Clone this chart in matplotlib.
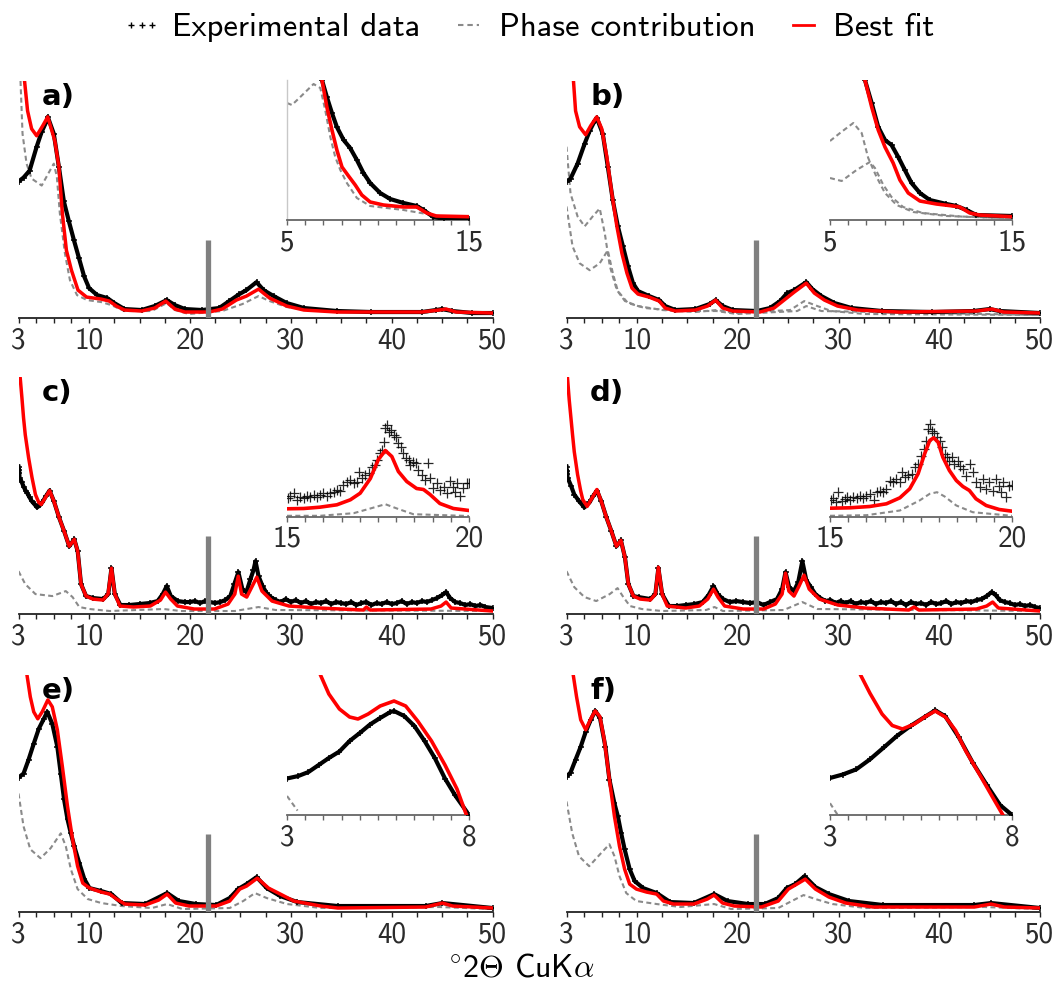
import numpy as np
import matplotlib
matplotlib.use("Agg")
import matplotlib.pyplot as plt
from matplotlib.lines import Line2D

plt.rcParams["font.family"] = ["cmss10", "DejaVu Sans"]
plt.rcParams["mathtext.fontset"] = "cm"
plt.rcParams["axes.unicode_minus"] = False

W, H = 1057, 992
RED = "#ff0000"
GREY = "#8a8a8a"
DARK = "#222222"
DASH = (0, (2.4, 1.6))

# vertical marker drawn at the same angle in every pattern
BAR_POS = 21.8
BAR_TOP = 78

# ---- a) ----
A_EXP = [(3.0, 137), (3.5, 141), (4.1, 148), (4.8, 172), (5.3, 187), (5.8, 198), (5.9, 202),
         (6.5, 185), (7.0, 152), (7.5, 117), (8.0, 97), (8.5, 78), (9.0, 60), (9.5, 42),
         (10.0, 30), (10.8, 23), (11.8, 20), (12.5, 15), (13.5, 9), (15.2, 8), (16.5, 12),
         (17.5, 17), (17.7, 18), (18.5, 13), (19.5, 9), (21.2, 8), (22.9, 10), (23.9, 17),
         (24.9, 24), (25.6, 28), (26.6, 36), (27.3, 28), (28.3, 22), (29.6, 15), (31.3, 10),
         (34.6, 7), (38.0, 6), (43.0, 6), (44.4, 8), (45.0, 9), (46.0, 7), (48.0, 5), (50.0, 5)]
A_FIT = [(3.6, 238), (3.9, 208), (4.3, 190), (4.8, 183), (5.4, 193), (5.9, 202), (6.6, 178),
         (7.0, 152), (7.35, 105), (7.75, 68), (8.25, 48), (8.9, 28), (9.75, 21), (11.2, 19),
         (12.0, 17), (12.7, 12), (13.5, 8), (15.2, 7), (16.5, 10), (17.6, 17), (18.5, 9),
         (19.5, 6), (21.9, 6), (23.2, 9), (24.6, 18), (25.6, 22), (26.8, 29), (27.9, 20),
         (29.6, 12), (31.3, 8), (34.6, 6), (43.0, 6), (44.7, 8), (45.4, 9), (46.4, 6), (50.0, 5)]
A_PHASE = [(3.2, 238), (3.4, 185), (3.8, 155), (4.3, 140), (5.3, 133), (5.95, 145), (6.5, 155),
           (6.8, 142), (7.1, 105), (7.6, 65), (8.1, 38), (8.8, 23), (9.8, 18), (11.2, 16),
           (12.2, 13), (13.5, 7), (16.2, 7), (17.7, 15), (18.5, 8), (19.9, 4), (23.2, 7),
           (25.2, 14), (26.8, 22), (27.9, 17), (29.6, 11), (32.9, 7), (43.0, 5), (45.0, 8), (50.0, 4)]
A_IN_EXP = [(6.92, 140), (7.19, 123), (7.47, 107), (7.74, 93), (8.11, 80), (8.47, 72), (8.84, 60),
            (9.2, 47), (9.57, 37), (10.12, 27), (10.67, 21), (11.4, 17), (12.13, 14), (12.5, 10),
            (13.04, 3), (13.6, 1.3), (15.0, 1.3)]
A_IN_FIT = [(6.92, 140), (7.19, 113), (7.47, 90), (7.74, 70), (8.02, 53), (8.38, 44), (8.75, 35),
            (9.11, 25), (9.57, 18), (10.3, 15), (11.4, 13), (12.13, 13), (12.68, 7), (13.2, 4),
            (15.0, 3.3)]
A_IN_PHASE = [(5.0, 117), (5.27, 115), (5.73, 123), (6.46, 136), (6.83, 132), (7.1, 110),
              (7.38, 83), (7.65, 63), (7.93, 50), (8.29, 37), (8.84, 22), (9.57, 14), (11.4, 10),
              (12.68, 6), (13.6, 3.3), (15.0, 2.7)]

# ---- b) ----
B_EXP = [(3.0, 137), (3.4, 140), (4.1, 155), (4.8, 175), (5.3, 188), (5.8, 198), (6.0, 201),
         (6.6, 185), (7.1, 152), (7.6, 118), (8.1, 92), (8.6, 72), (9.1, 52), (9.6, 35),
         (10.1, 27), (11.2, 22), (12.2, 18), (12.8, 12), (13.8, 8), (15.8, 9), (17.2, 14),
         (17.8, 18), (18.5, 12), (19.5, 8), (21.9, 7), (23.2, 10), (24.2, 17), (24.9, 25),
         (25.6, 28), (26.8, 36), (27.4, 29), (28.3, 22), (29.6, 15), (31.3, 10), (34.3, 7),
         (39.3, 6), (43.4, 7), (45.0, 9), (46.0, 7), (50.0, 5)]
B_FIT = [(3.7, 237), (3.9, 208), (4.3, 192), (4.9, 184), (5.4, 193), (6.0, 202), (6.5, 190),
         (7.0, 162), (7.5, 125), (8.0, 92), (8.5, 65), (9.0, 45), (9.5, 30), (10.1, 24),
         (11.2, 21), (12.2, 17), (12.8, 10), (13.8, 7), (15.8, 8), (17.0, 12), (17.8, 18),
         (18.5, 10), (19.5, 7), (22.2, 6), (23.6, 10), (24.6, 18), (25.6, 26), (26.8, 35),
         (27.6, 25), (28.6, 18), (29.9, 12), (31.9, 8), (36.0, 6), (43.7, 7), (45.2, 9),
         (46.4, 6), (50.0, 5)]
B_PHASE_1 = [(3.0, 172), (3.4, 125), (4.1, 102), (4.8, 92), (5.6, 102), (6.3, 110), (6.8, 85),
             (7.3, 52), (8.0, 28), (8.8, 17), (10.1, 12), (12.5, 8), (15.8, 6), (17.9, 8),
             (19.9, 5), (25.2, 8), (26.6, 17), (27.9, 12), (29.3, 7), (32.6, 4), (50.0, 3)]
B_PHASE_2 = [(3.0, 112), (3.6, 72), (4.3, 55), (5.3, 48), (6.3, 55), (7.1, 68), (7.6, 45),
             (8.1, 27), (9.1, 15), (10.8, 10), (14.2, 7), (17.9, 7), (19.9, 4), (25.9, 7),
             (26.8, 12), (28.3, 7), (50.0, 3)]
B_IN_EXP = [(6.92, 140), (7.29, 117), (7.65, 93), (8.02, 80), (8.38, 75), (8.75, 63), (9.11, 50),
            (9.48, 37), (9.94, 27), (10.48, 20), (11.4, 16), (11.95, 14), (12.5, 10), (13.04, 5),
            (15.0, 4)]
B_IN_FIT = [(6.92, 140), (7.29, 113), (7.65, 90), (8.02, 73), (8.47, 57), (8.84, 40), (9.3, 27),
            (9.94, 19), (10.85, 16), (11.76, 14), (12.13, 13), (12.68, 7), (13.2, 5), (15.0, 3.3)]
B_IN_PHASE_1 = [(5.0, 79), (5.55, 87), (6.28, 97), (6.74, 87), (7.1, 62), (7.56, 43), (8.02, 27),
                (8.66, 15), (9.57, 8), (11.4, 4), (15.0, 1.7)]
B_IN_PHASE_2 = [(5.0, 42), (5.64, 39), (6.46, 50), (7.19, 58), (7.47, 52), (7.93, 35), (8.38, 23),
                (9.02, 13), (10.1, 7), (12.3, 3.3), (15.0, 1.7)]

# ---- c) ----
C_EXP = [(3.0, 148), (3.03, 142), (3.06, 145), (3.1, 137), (3.3, 133), (3.5, 128), (3.7, 124),
         (3.84, 122), (4.1, 117), (4.34, 113), (4.6, 110), (4.84, 107), (5.1, 109), (5.35, 112),
         (5.7, 118), (6.08, 124), (6.52, 113), (7.02, 97), (7.53, 83), (8.03, 68), (8.53, 75),
         (8.87, 63), (9.2, 30), (9.7, 18), (10.4, 16), (11.4, 15), (11.9, 20), (12.22, 46),
         (12.55, 20), (13.1, 9), (14.0, 9), (15.0, 10), (16.0, 11), (16.8, 13), (17.3, 20),
         (17.7, 28), (18.1, 18), (18.8, 13), (19.5, 12), (20.0, 12), (20.5, 13), (21.0, 11),
         (21.5, 13), (22.0, 12), (22.5, 11), (23.0, 12), (23.5, 14), (24.0, 18), (24.4, 30),
         (24.8, 42), (25.2, 25), (25.6, 22), (26.0, 35), (26.3, 44), (26.5, 53), (26.8, 38),
         (27.2, 28), (27.6, 21), (28.0, 17), (28.5, 14), (29.0, 12), (29.5, 15), (30.0, 12),
         (30.5, 14), (31.0, 11), (31.5, 13), (32.0, 10), (32.5, 12), (33.0, 11), (33.5, 13),
         (34.0, 10), (34.5, 12), (35.0, 11), (35.5, 10), (36.0, 12), (36.5, 9), (37.0, 11),
         (37.5, 12), (38.0, 9), (38.5, 11), (39.0, 10), (39.5, 12), (40.0, 10), (40.5, 11),
         (41.0, 13), (41.5, 10), (42.0, 12), (42.5, 11), (43.0, 13), (43.5, 12), (44.0, 14),
         (44.5, 16), (45.0, 19), (45.4, 22), (45.8, 16), (46.3, 12), (46.8, 11), (47.3, 9),
         (47.8, 10), (48.3, 8), (48.8, 9), (49.3, 7), (50.0, 6)]
C_FIT = [(3.17, 237), (3.34, 217), (3.5, 197), (3.67, 180), (4.0, 157), (4.34, 137), (4.68, 120),
         (5.01, 112), (5.25, 110), (5.68, 117), (6.08, 124), (6.52, 113), (7.02, 97), (7.53, 83),
         (8.03, 68), (8.53, 75), (8.87, 63), (9.2, 30), (9.7, 18), (10.37, 15), (11.38, 14),
         (11.88, 20), (12.22, 46), (12.55, 20), (13.06, 8), (14.4, 7), (16.07, 8), (17.08, 14),
         (17.58, 22), (18.09, 15), (18.76, 8), (20.43, 5), (22.44, 5), (23.78, 10), (24.45, 20),
         (24.79, 38), (25.12, 20), (25.63, 17), (26.13, 27), (26.63, 37), (27.14, 23),
         (28.14, 13), (29.82, 8), (32.84, 6), (37.2, 4), (37.5, 7), (37.86, 4), (43.9, 5),
         (44.9, 8), (45.4, 12), (45.9, 6), (50.0, 3)]
C_PHASE = [(3.0, 43), (3.67, 30), (4.68, 20), (6.35, 18), (7.69, 23), (8.36, 17), (9.03, 7),
           (10.04, 5), (12.05, 3), (17.4, 5), (19.1, 3), (24.45, 3), (26.8, 7), (28.5, 4), (50.0, 3)]
C_IN_EXP = [(15.02, 18.3), (15.09, 20.7), (15.2, 24), (15.27, 16.7), (15.37, 19.3), (15.46, 18.3),
            (15.55, 20.7), (15.64, 19.3), (15.73, 21.7), (15.82, 20), (15.91, 21.7), (16.0, 23.3),
            (16.1, 20.7), (16.19, 24), (16.28, 25), (16.37, 26.7), (16.46, 26), (16.55, 31.7),
            (16.65, 35), (16.74, 36.7), (16.83, 33.3), (16.92, 35), (16.97, 45), (17.06, 38.3),
            (17.15, 41.7), (17.24, 44), (17.33, 50), (17.42, 51.7), (17.47, 56.7), (17.56, 63.3),
            (17.61, 66.7), (17.67, 75), (17.7, 88.3), (17.74, 91.7), (17.79, 85), (17.85, 86.7),
            (17.93, 81.7), (18.0, 80), (18.06, 73.3), (18.13, 70), (18.2, 63.3), (18.27, 58.3),
            (18.34, 56.7), (18.38, 51.7), (18.47, 55), (18.55, 53.3), (18.61, 46.7), (18.7, 41.7),
            (18.79, 36.7), (18.88, 53.3), (18.93, 38.3), (19.02, 28.3), (19.11, 33.3), (19.2, 26.7),
            (19.3, 30), (19.39, 23.3), (19.48, 36), (19.55, 30), (19.62, 25), (19.66, 33.3),
            (19.75, 20.7), (19.83, 28.3), (19.94, 33.3), (20.0, 34)]
C_IN_FIT = [(15.0, 7.7), (15.46, 8), (15.9, 9.3), (16.37, 11.7), (16.74, 16.7), (17.01, 23.3),
            (17.29, 38), (17.51, 57), (17.7, 66), (17.88, 60), (18.06, 45), (18.29, 35),
            (18.56, 28), (18.75, 27), (18.93, 22), (19.2, 13), (19.57, 8), (20.0, 6)]
C_IN_PHASE = [(15.0, 0.7), (15.9, 0.7), (16.83, 3.3), (17.29, 8), (17.7, 12.3), (18.02, 8),
              (18.47, 2.3), (20.0, 0.5)]

# ---- d) ----
D_EXP = [(3.0, 148), (3.03, 141), (3.06, 144), (3.1, 137), (3.44, 129), (3.77, 120), (4.27, 113),
         (4.78, 107), (5.28, 112), (5.62, 118), (6.02, 124), (6.46, 113), (6.96, 97), (7.46, 83),
         (7.96, 68), (8.4, 74), (8.8, 57), (9.14, 30), (9.64, 18), (10.15, 17), (11.32, 15),
         (11.82, 20), (12.12, 46), (12.49, 20), (13.16, 8), (14.0, 8), (14.84, 9), (15.7, 10),
         (16.52, 12), (17.1, 19), (17.59, 28), (18.0, 20), (18.53, 15), (19.2, 12), (19.87, 13),
         (20.5, 12), (21.22, 11), (21.9, 12), (22.56, 9), (23.2, 12), (23.9, 15), (24.4, 25),
         (24.74, 42), (25.1, 27), (25.58, 23), (26.0, 32), (26.41, 53), (26.8, 34), (27.25, 27),
         (27.7, 20), (28.2, 16), (28.7, 13), (29.2, 14), (29.7, 11), (30.2, 13), (30.7, 11),
         (31.2, 13), (31.7, 10), (32.2, 12), (32.7, 11), (33.2, 13), (33.7, 10), (34.2, 12),
         (34.7, 11), (35.2, 13), (35.7, 10), (36.2, 12), (36.7, 9), (37.2, 12), (37.7, 10),
         (38.2, 11), (38.7, 9), (39.2, 12), (39.7, 10), (40.2, 11), (40.7, 13), (41.2, 10),
         (41.7, 12), (42.2, 11), (42.7, 13), (43.2, 12), (43.7, 14), (44.2, 15), (44.7, 18),
         (45.2, 22), (45.6, 19), (46.0, 14), (46.5, 12), (47.0, 11), (47.5, 9), (48.0, 10),
         (48.5, 8), (49.0, 9), (49.5, 7), (50.0, 6)]
D_FIT = [(3.1, 237), (3.27, 215), (3.44, 197), (3.6, 180), (3.77, 163), (4.1, 140), (4.4, 124),
         (4.61, 115), (5.05, 108), (5.62, 118), (6.02, 125), (6.46, 113), (6.96, 97), (7.46, 83),
         (7.96, 68), (8.4, 74), (8.8, 57), (9.14, 30), (9.64, 18), (10.31, 15), (11.32, 14),
         (11.82, 20), (12.12, 47), (12.49, 20), (13.0, 8), (14.84, 6), (16.18, 8), (17.02, 15),
         (17.59, 25), (18.03, 17), (18.7, 8), (20.54, 5), (22.56, 5), (23.73, 10), (24.4, 20),
         (24.74, 41), (25.07, 23), (25.58, 18), (26.08, 28), (26.58, 39), (27.09, 25), (28.09, 15),
         (29.94, 9), (32.62, 6), (36.98, 4), (37.49, 7), (37.99, 4), (43.69, 5), (44.7, 8),
         (45.3, 12), (45.87, 6), (50.0, 3)]
D_PHASE = [(3.0, 43), (3.77, 27), (4.78, 17), (5.95, 13), (7.29, 20), (8.07, 26), (8.64, 17),
           (9.3, 8), (10.48, 5), (12.49, 3), (16.85, 4), (17.69, 7), (18.53, 3), (24.57, 4),
           (26.41, 12), (27.92, 5), (50.0, 3)]
D_IN_EXP = [(15.02, 16.7), (15.09, 18.7), (15.16, 14.3), (15.23, 24.3), (15.32, 16), (15.41, 17.7),
            (15.47, 20), (15.55, 16.7), (15.64, 19.3), (15.73, 18.7), (15.82, 21), (15.91, 18.7),
            (16.0, 21), (16.09, 22.7), (16.2, 16.7), (16.28, 24.3), (16.37, 26), (16.46, 24.3),
            (16.55, 27.7), (16.64, 36), (16.73, 34.3), (16.82, 37.7), (16.92, 34.3), (16.99, 44.3),
            (17.05, 39.3), (17.14, 42), (17.24, 42.7), (17.33, 49.3), (17.42, 52.7), (17.51, 61),
            (17.57, 67.7), (17.65, 76), (17.69, 87.7), (17.76, 92.7), (17.81, 85.3), (17.87, 83.3),
            (17.94, 79.3), (18.01, 76), (18.08, 69.3), (18.15, 62.7), (18.21, 59.3), (18.28, 56),
            (18.36, 59.3), (18.42, 52.7), (18.51, 56), (18.58, 51), (18.65, 47.7), (18.74, 41),
            (18.85, 52.7), (18.92, 44.3), (19.01, 34.3), (19.11, 29.3), (19.2, 37.7), (19.29, 27.7),
            (19.38, 34.3), (19.47, 26), (19.56, 37.7), (19.64, 31), (19.7, 24.3), (19.76, 34.3),
            (19.84, 19.3), (19.91, 31), (20.0, 32)]
D_IN_FIT = [(15.0, 8.3), (15.55, 8.7), (16.09, 10), (16.55, 12.7), (16.92, 18.7), (17.19, 27.7),
            (17.42, 42.7), (17.6, 62.7), (17.74, 76), (17.85, 78.7), (17.97, 74.3), (18.1, 59.3),
            (18.28, 46), (18.47, 36), (18.65, 30), (18.83, 26), (19.01, 17.7), (19.29, 11),
            (19.65, 7), (20.0, 5.3)]
D_IN_PHASE = [(15.0, 0.7), (16.0, 1.3), (16.92, 6), (17.46, 16), (17.74, 22.7), (17.94, 24.3),
              (18.15, 20), (18.47, 11), (18.92, 4.3), (20.0, 0.7)]

# ---- e) ----
E_EXP = [(3.0, 135), (3.5, 139), (4.0, 153), (4.51, 169), (5.01, 184), (5.51, 194), (5.85, 201),
         (6.35, 189), (6.85, 166), (7.19, 139), (7.52, 113), (7.86, 93), (8.19, 79), (8.53, 66),
         (9.03, 49), (9.53, 33), (10.04, 24), (11.21, 21), (12.21, 18), (13.22, 9), (15.56, 8),
         (17.74, 19), (18.91, 11), (20.59, 8), (22.6, 7), (23.94, 14), (24.78, 23), (25.61, 28),
         (26.61, 35), (27.62, 24), (28.96, 16), (30.64, 10), (34.66, 6), (43.37, 6), (45.04, 9),
         (50.0, 4)]
E_FIT = [(3.84, 238), (4.17, 216), (4.51, 201), (4.91, 194), (5.35, 201), (5.91, 213), (6.35, 206),
         (6.85, 183), (7.35, 146), (7.86, 106), (8.36, 73), (8.86, 46), (9.37, 29), (10.04, 24),
         (11.21, 20), (12.05, 18), (12.72, 13), (13.55, 8), (15.56, 7), (16.9, 12), (17.74, 18),
         (18.58, 9), (19.92, 6), (22.6, 6), (23.94, 11), (24.94, 23), (25.61, 26), (26.68, 34),
         (27.79, 24), (28.96, 18), (30.3, 11), (32.98, 6), (34.66, 4), (43.37, 5), (45.04, 9),
         (46.05, 6), (50.0, 4)]
E_PHASE = [(3.0, 119), (3.5, 86), (4.17, 63), (5.18, 54), (6.18, 64), (7.19, 79), (7.69, 66),
           (8.19, 43), (8.86, 23), (9.87, 13), (11.21, 9), (13.22, 6), (16.23, 4), (17.74, 8),
           (19.25, 3), (23.94, 4), (25.28, 11), (26.45, 19), (27.62, 14), (29.63, 8), (32.98, 4),
           (44.7, 5), (50.0, 3)]
E_IN_EXP = [(3.0, 36.5), (3.31, 39), (3.59, 43), (3.87, 50), (4.15, 57), (4.44, 63.5), (4.72, 74),
            (5.0, 82), (5.28, 90.5), (5.56, 97), (5.84, 103), (5.94, 104), (6.22, 99), (6.5, 89),
            (6.78, 74), (7.06, 57), (7.34, 36.5), (7.62, 19.6), (8.0, 0)]
E_IN_FIT = [(3.92, 140), (4.15, 121), (4.44, 106), (4.72, 98), (4.95, 96), (5.23, 101), (5.56, 109),
            (5.94, 114), (6.26, 109), (6.59, 94), (6.97, 74), (7.34, 50), (7.67, 26), (7.92, 1)]
E_IN_PHASE = [(3.0, 19), (3.29, 4.4)]

# ---- f) ----
F_EXP = [(3.0, 136), (3.4, 140), (3.9, 153), (4.41, 166), (4.91, 181), (5.41, 193), (5.85, 202),
         (6.32, 195), (6.86, 166), (7.26, 133), (7.76, 109), (8.1, 96), (8.43, 79), (8.77, 63),
         (9.27, 43), (9.77, 31), (10.61, 24), (11.95, 19), (13.29, 10), (15.64, 9), (17.65, 18),
         (18.99, 11), (21.0, 8), (22.68, 8), (24.02, 14), (24.86, 24), (25.7, 28), (26.63, 36),
         (27.71, 25), (29.05, 18), (31.06, 11), (34.41, 7), (43.46, 7), (45.14, 9), (50.0, 4)]
F_FIT = [(3.67, 238), (4.0, 216), (4.41, 193), (4.91, 183), (5.41, 194), (5.85, 202), (6.32, 196),
         (6.75, 173), (7.26, 133), (7.76, 96), (8.26, 66), (8.77, 43), (9.27, 28), (9.94, 23),
         (10.95, 20), (11.95, 18), (12.62, 11), (13.63, 8), (15.64, 8), (16.98, 13), (17.65, 17),
         (18.49, 9), (19.66, 6), (22.34, 5), (24.02, 11), (25.02, 23), (25.7, 27), (26.7, 33),
         (27.71, 23), (29.05, 15), (30.72, 9), (33.41, 5), (43.46, 5), (45.14, 8), (46.48, 5),
         (50.0, 4)]
F_PHASE = [(3.0, 111), (3.57, 79), (4.24, 56), (5.25, 46), (6.42, 59), (7.26, 68), (7.76, 56),
           (8.26, 36), (8.93, 19), (9.94, 11), (11.95, 8), (14.3, 5), (17.65, 8), (19.33, 3),
           (24.02, 4), (25.36, 11), (26.53, 17), (27.71, 13), (29.39, 8), (32.74, 4), (44.47, 5),
           (50.0, 3)]
F_IN_EXP = [(3.0, 37), (3.35, 40.5), (3.72, 45.6), (4.1, 55.7), (4.48, 67.6), (4.85, 79.4),
            (5.23, 89.5), (5.6, 98), (5.89, 104.7), (6.17, 98.6), (6.54, 77.7), (6.92, 52.4),
            (7.3, 30.4), (7.67, 10), (8.0, 0)]
F_IN_FIT = [(3.84, 140), (4.1, 121.6), (4.43, 101), (4.71, 89.5), (4.99, 86), (5.32, 91), (5.6, 98),
            (5.89, 104), (6.17, 98), (6.45, 84.5), (6.73, 64), (7.11, 40.5), (7.48, 17), (7.75, 0)]
F_IN_PHASE = [(3.0, 11.8), (3.2, 0.7)]

MAIN_TICKS = [3, 10, 20, 30, 40, 50]
MAIN_MINOR = [4.75, 6.5, 8.25, 12.5, 15, 17.5, 22.5, 25, 27.5, 32.5, 35, 37.5, 42.5, 45, 47.5]


def xy(points):
    arr = np.array(points, dtype=float)
    return arr[:, 0], arr[:, 1]


def add_px_axes(fig, x0, x1, y_axis, height):
    return fig.add_axes([x0 / W, 1 - y_axis / H, (x1 - x0) / W, height / H])


def strip_axes(ax, spine_color, spine_lw):
    ax.patch.set_visible(False)
    for side in ("top", "left", "right"):
        ax.spines[side].set_visible(False)
    ax.spines["bottom"].set_color(spine_color)
    ax.spines["bottom"].set_linewidth(spine_lw)
    ax.set_yticks([])
    ax.tick_params(axis="x", which="both", direction="out", length=3.5, width=1,
                   color=spine_color, labelsize=21, labelcolor="#2b2b2b", pad=3)


def draw_exp_band(ax, exp, ms):
    x, y = xy(exp)
    ax.plot(x, y, color="black", lw=3.0, zorder=3, solid_joinstyle="round")
    ax.plot(x, y, ls="none", marker="+", ms=ms, mew=1.1, color="black", zorder=3)


def draw_main(ax, exp, fit, phases, tag):
    strip_axes(ax, DARK, 1.3)
    for ph in phases:
        x, y = xy(ph)
        ax.plot(x, y, color=GREY, lw=1.5, ls=DASH, zorder=2)
    draw_exp_band(ax, exp, 5)
    x, y = xy(fit)
    ax.plot(x, y, color=RED, lw=2.5, zorder=4, solid_joinstyle="round")
    ax.vlines(BAR_POS, 0, BAR_TOP, colors="#808080", lw=3.8, zorder=5)
    ax.set_xlim(3, 50)
    ax.set_ylim(0, 238)
    ax.set_xticks(MAIN_TICKS)
    ax.set_xticks(MAIN_MINOR, minor=True)
    ax.text(0.05, 0.99, tag, transform=ax.transAxes, ha="left", va="top",
            fontsize=21, fontweight="bold", family="DejaVu Sans")


def draw_inset(ax, exp, fit, phases, lims, step, scatter=False, left_line=False):
    strip_axes(ax, "#666666", 1.3)
    for ph in phases:
        x, y = xy(ph)
        ax.plot(x, y, color=GREY, lw=1.5, ls=DASH, zorder=2)
    if scatter:
        x, y = xy(exp)
        ax.plot(x, y, ls="none", marker="+", ms=7.5, mew=0.9, color="black", alpha=0.85, zorder=3)
    else:
        draw_exp_band(ax, exp, 5)
    x, y = xy(fit)
    ax.plot(x, y, color=RED, lw=2.6, zorder=4, solid_joinstyle="round")
    ax.set_xlim(*lims)
    ax.set_ylim(0, 140)
    ax.set_xticks(list(lims))
    ax.set_xticks(np.arange(lims[0] + step, lims[1] - step / 2, step), minor=True)
    ax.set_xticklabels([f"{v:g}" for v in lims])
    if left_line:
        ax.spines["left"].set_visible(True)
        ax.spines["left"].set_color("#c8c8c8")
        ax.spines["left"].set_linewidth(1.0)


fig = plt.figure(figsize=(W / 100, H / 100), dpi=100)

cols = [(18.5, 492.5), (566.5, 1040.0)]
inset_cols = [(287.0, 469.0), (830.0, 1012.0)]
rows = [318, 614, 912]
inset_rows = [220, 516.5, 815]

panels = [
    (A_EXP, A_FIT, [A_PHASE], "a)", A_IN_EXP, A_IN_FIT, [A_IN_PHASE], (5, 15), 1.0, False, True),
    (B_EXP, B_FIT, [B_PHASE_1, B_PHASE_2], "b)", B_IN_EXP, B_IN_FIT, [B_IN_PHASE_1, B_IN_PHASE_2],
     (5, 15), 1.0, False, False),
    (C_EXP, C_FIT, [C_PHASE], "c)", C_IN_EXP, C_IN_FIT, [C_IN_PHASE], (15, 20), 0.5, True, False),
    (D_EXP, D_FIT, [D_PHASE], "d)", D_IN_EXP, D_IN_FIT, [D_IN_PHASE], (15, 20), 0.5, True, False),
    (E_EXP, E_FIT, [E_PHASE], "e)", E_IN_EXP, E_IN_FIT, [E_IN_PHASE], (3, 8), 0.5, False, False),
    (F_EXP, F_FIT, [F_PHASE], "f)", F_IN_EXP, F_IN_FIT, [F_IN_PHASE], (3, 8), 0.5, False, False),
]

for i, (exp, fit, phases, tag, in_exp, in_fit, in_phases, lims, step, scatter, left_line) in enumerate(panels):
    r, c = divmod(i, 2)
    ax = add_px_axes(fig, *cols[c], rows[r], 237)
    draw_main(ax, exp, fit, phases, tag)
    ins = add_px_axes(fig, *inset_cols[c], inset_rows[r], 140)
    draw_inset(ins, in_exp, in_fit, in_phases, lims, step, scatter, left_line)

handles = [
    Line2D([], [], ls="none", marker="+", ms=5, mew=1.0, color="black"),
    Line2D([], [], color=GREY, lw=1.5, ls=(0, (2.6, 1.9))),
    Line2D([], [], color=RED, lw=2.0),
]
fig.legend(handles, ["Experimental data", "Phase contribution", "Best fit"],
           loc="center", bbox_to_anchor=(528 / W, 1 - 28 / H), ncol=3, frameon=False,
           fontsize=23.5, numpoints=3, handlelength=1.25, handletextpad=0.3, columnspacing=0.85)

fig.text(521 / W, 1 - 968 / H, r"$^{\circ}$2$\Theta$ CuK$\alpha$", ha="center", va="center",
         fontsize=23)

fig.savefig("out.png", dpi=100)
